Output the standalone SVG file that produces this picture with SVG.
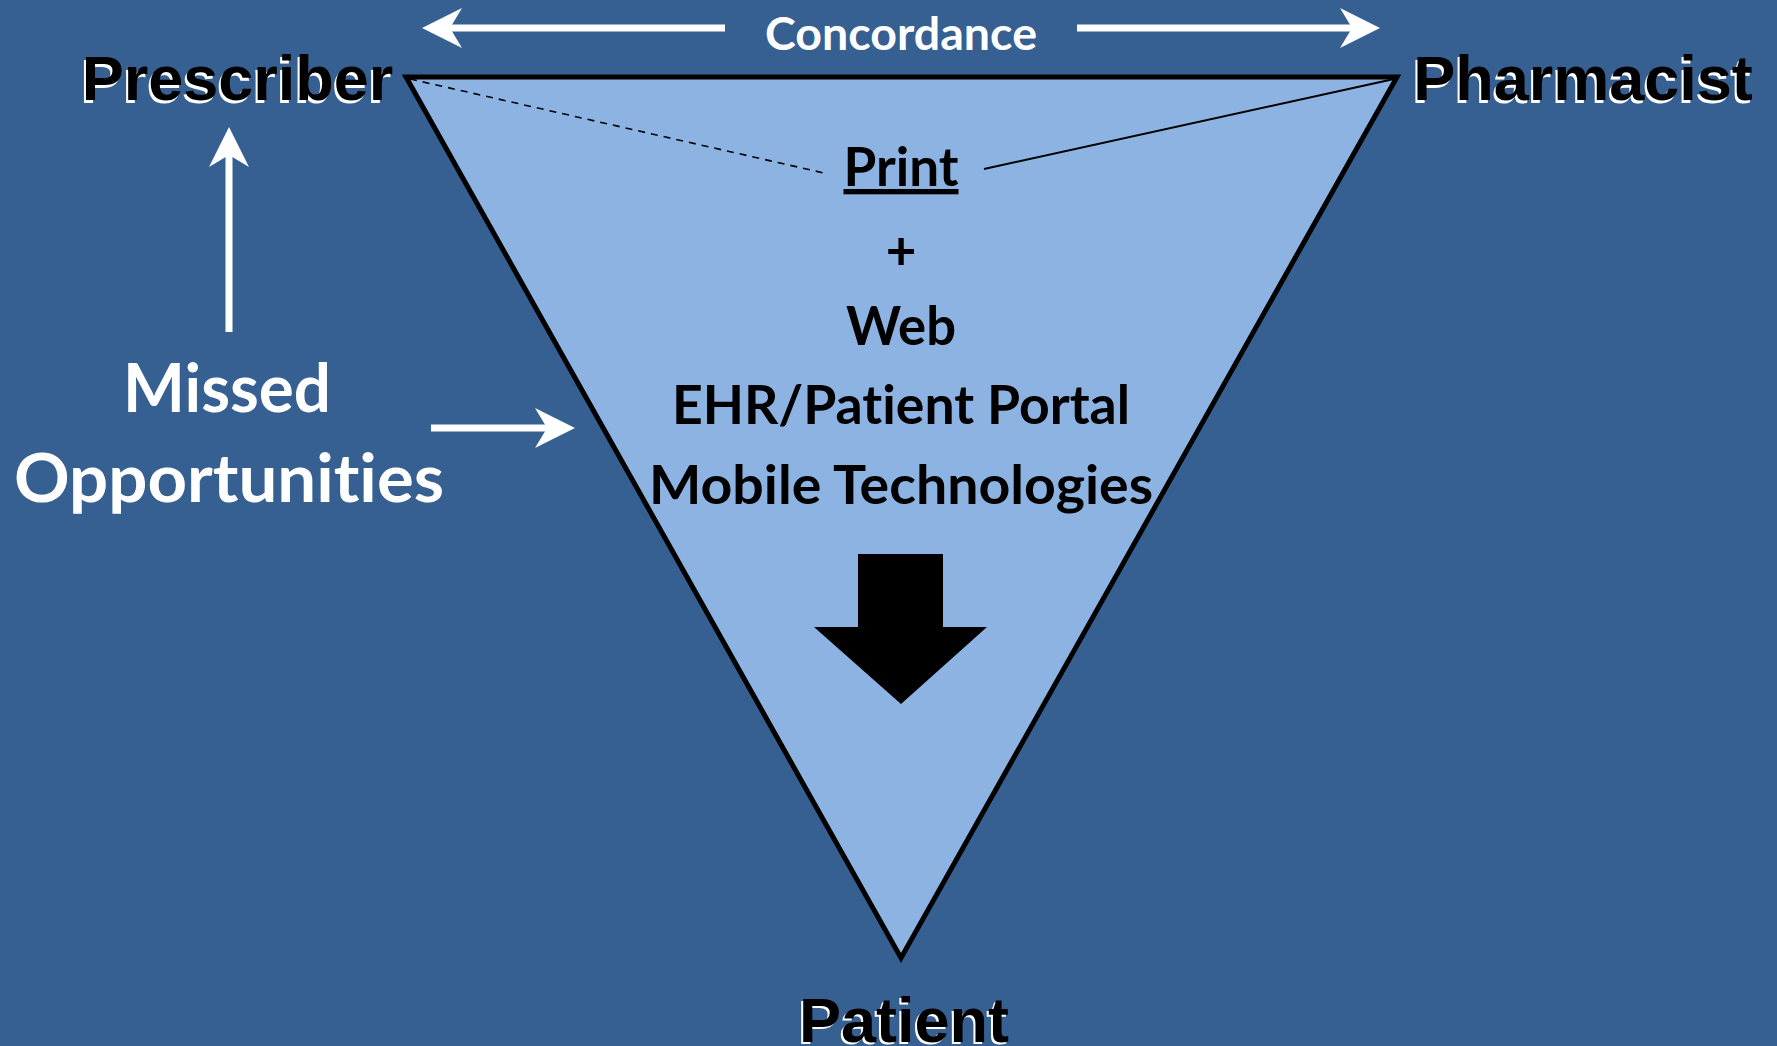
<svg xmlns="http://www.w3.org/2000/svg" width="1777" height="1046" viewBox="0 0 1777 1046">
  <style>
    .role { font-family: "Liberation Sans", Arial, sans-serif; font-weight: bold; font-size: 63px; text-anchor: middle; }
    .role-shadow { fill: #ffffff; }
    .role-text { fill: #000000; }
    .inner { font-family: Lato, "Open Sans", sans-serif; font-weight: bold; font-size: 53px; fill: #000000; text-anchor: middle; font-variant-ligatures: none; font-feature-settings: "liga" 0; }
    .white { font-family: Lato, "Open Sans", sans-serif; font-weight: bold; fill: #ffffff; text-anchor: middle; font-variant-ligatures: none; font-feature-settings: "liga" 0; }
    .warrow { stroke: #ffffff; stroke-width: 7; fill: none; marker-end: url(#wh); }
  </style>
  <defs>
    <marker id="wh" viewBox="0 0 40 40" refX="12" refY="20" markerWidth="40" markerHeight="40" markerUnits="userSpaceOnUse" orient="auto">
      <path d="M0,0 L40,20 L0,40 L12,20 Z" fill="#ffffff"/>
    </marker>
  </defs>
  <rect x="0" y="0" width="1777" height="1046" fill="#376092"/>

  <g id="triangle">
    <polygon points="406,77 1397,77 901,958" fill="#8DB3E2" stroke="#000000" stroke-width="5" stroke-linejoin="miter"/>
  </g>

  <g id="connectors">
    <line x1="410" y1="79" x2="824" y2="173" stroke="#000000" stroke-width="1.6" stroke-dasharray="7,6"/>
    <line x1="984" y1="169" x2="1394" y2="79" stroke="#000000" stroke-width="2"/>
    <line class="warrow" x1="725" y1="28" x2="450" y2="28"/>
    <line class="warrow" x1="1077" y1="28" x2="1352" y2="28"/>
    <line class="warrow" x1="229" y1="332" x2="229" y2="155"/>
    <line class="warrow" x1="431" y1="428" x2="547" y2="428"/>
    <polygon id="down-arrow" points="858,554 943,554 943,627 987,627 901,704 814,627 858,627" fill="#000000"/>
  </g>

  <g id="concordance">
    <text class="white" x="901" y="50" font-size="45" textLength="272" lengthAdjust="spacingAndGlyphs">Concordance</text>
  </g>

  <g id="prescriber">
    <text class="role role-shadow" x="235.5" y="102.5">Prescriber</text>
    <text class="role role-text" x="237.5" y="100">Prescriber</text>
  </g>

  <g id="pharmacist">
    <text class="role role-shadow" x="1581" y="102.5">Pharmacist</text>
    <text class="role role-text" x="1583" y="100">Pharmacist</text>
  </g>

  <g id="patient">
    <text class="role role-shadow" x="902" y="1044">Patient</text>
    <text class="role role-text" x="904" y="1041.5">Patient</text>
  </g>

  <g id="channels">
    <text class="inner" x="901" y="186" text-decoration="underline" textLength="115" lengthAdjust="spacingAndGlyphs">Print</text>
    <text class="inner" x="901" y="270">+</text>
    <text class="inner" x="901" y="345" textLength="110" lengthAdjust="spacingAndGlyphs">Web</text>
    <text class="inner" x="901" y="424" textLength="458" lengthAdjust="spacingAndGlyphs">EHR/Patient Portal</text>
    <text class="inner" x="901" y="504" textLength="504" lengthAdjust="spacingAndGlyphs">Mobile Technologies</text>
  </g>

  <g id="missed">
    <text class="white" x="227" y="412" font-size="66" textLength="208" lengthAdjust="spacingAndGlyphs">Missed</text>
    <text class="white" x="229" y="502" font-size="66" textLength="430" lengthAdjust="spacingAndGlyphs">Opportunities</text>
  </g>
</svg>
